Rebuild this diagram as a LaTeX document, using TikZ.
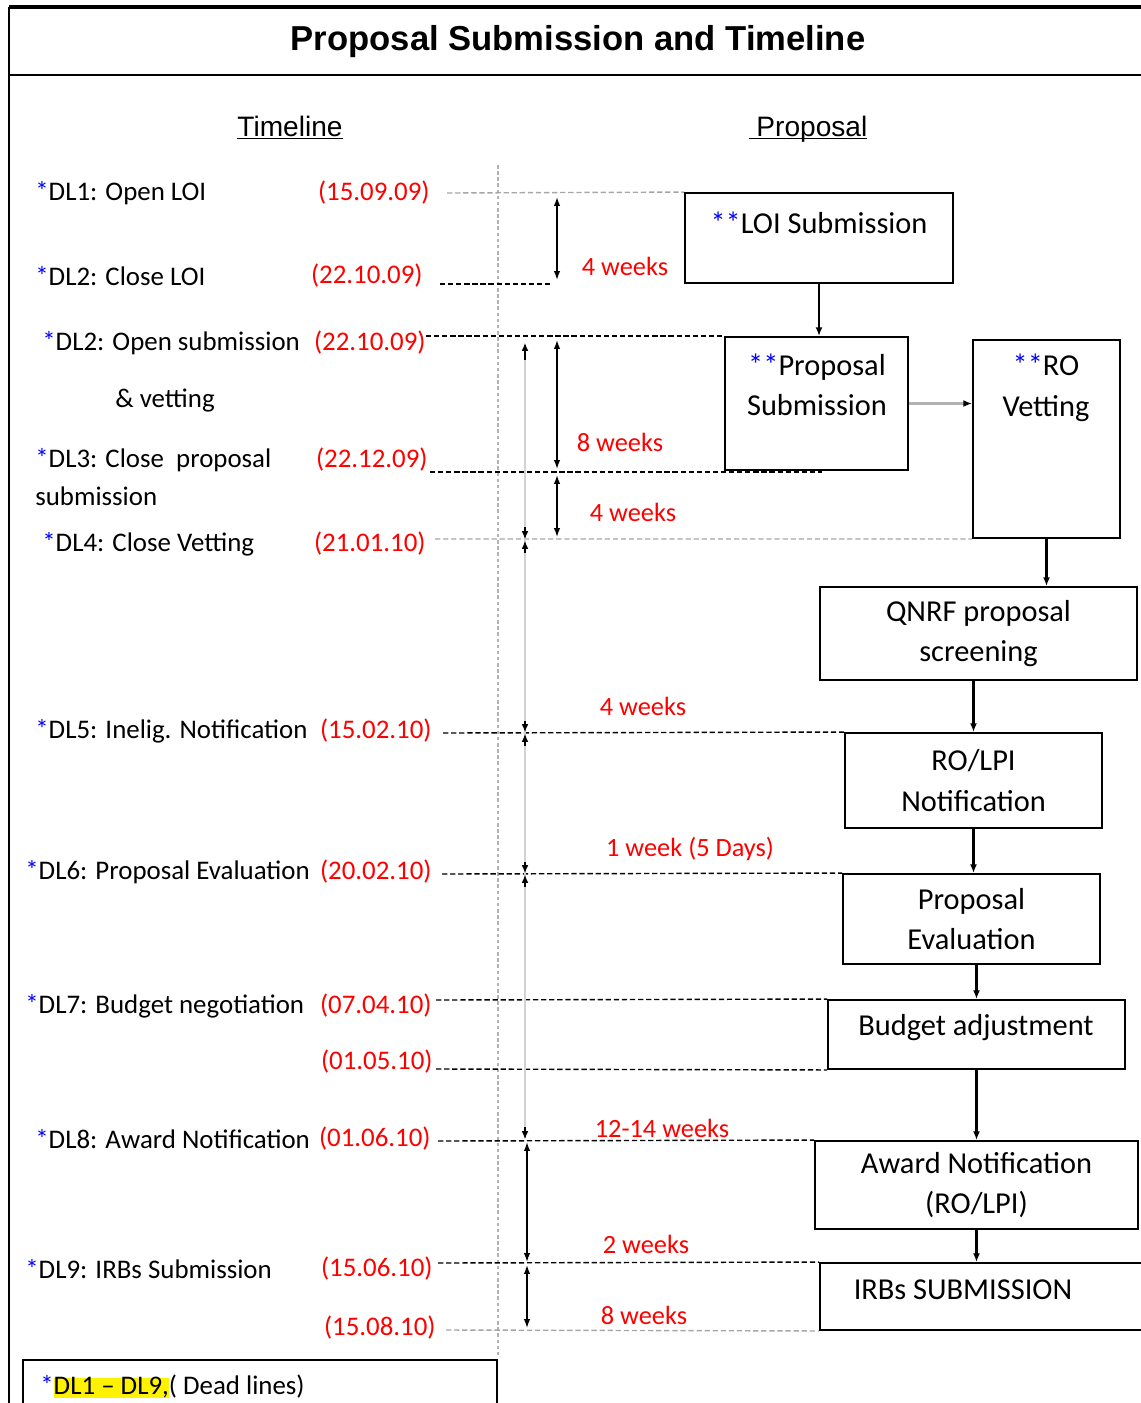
\documentclass[tikz,border=0pt]{standalone}
\usepackage{fontspec}
\setmainfont{Carlito}
\newfontfamily\headfont{Liberation Sans}
\usepackage{xcolor}
\usetikzlibrary{arrows.meta,positioning}
\newcommand{\dlstar}{\textcolor{blue}{*}}
\setlength{\fboxsep}{0pt}

\begin{document}
\begin{tikzpicture}[x=0.02cm, y=-0.02cm,
  lbl/.style={anchor=west, inner sep=0pt, font=\fontsize{15.3}{18}\selectfont},
  date/.style={anchor=east, inner sep=0pt, text=red, font=\fontsize{15.3}{18}\selectfont},
  wk/.style={inner sep=0pt, text=red, font=\fontsize{15}{18}\selectfont},
  head/.style={inner sep=0pt, anchor=base, font=\headfont\fontsize{16}{19}\selectfont},
  stepbox/.style={draw, line width=1.1pt, inner sep=0pt, align=center, font=\fontsize{17.3}{23}\selectfont},
  boxtxt/.style={inner sep=0pt, align=center, font=\fontsize{17.3}{23}\selectfont},
  guide/.style={line width=0.8pt, dash pattern=on 3pt off 1.6pt},
  guidegray/.style={guide, gray!70},
  span/.style={line width=0.8pt, {Latex[length=5pt,width=3.6pt]}-{Latex[length=5pt,width=3.6pt]}},
  tick/.style={line width=0.6pt, -{Latex[length=4.5pt,width=3.8pt]}},
  flow/.style={line width=1.3pt, -{Latex[length=5pt,width=4pt]}},
]
  \useasboundingbox (0,0) rectangle (1140,1403);

  \draw[line width=2.2pt] (9,7) -- (1150,7);
  \draw[line width=1.2pt] (9,7) -- (9,1420);
  \draw[line width=1.2pt] (9,75) -- (1150,75);
  \node[font=\headfont\bfseries\fontsize{19.7}{22}\selectfont, inner sep=0pt, anchor=base] (title) at (578,50) {Proposal Submission and Timeline};
  \node[head] (tl) at (290,136) {\underline{\smash{Timeline}}};
  \node[head] (pr) at (808,136) {\underline{\smash{\ Proposal}}};

  \draw[gray!60, line width=1.2pt, dash pattern=on 2pt off 1.5pt] (498,165) -- (498,1355);

  \node[lbl] (l1) at (35,193) {\dlstar DL1: Open LOI};
  \node[lbl] (l2) at (35,276) {\dlstar DL2: Close LOI};
  \node[lbl] (l3) at (42,343) {\dlstar DL2: Open submission};
  \node[lbl] (l3b) at (115,401) {\& vetting};
  \node[lbl] (l4) at (35,460) {\dlstar DL3: Close\ \ proposal};
  \node[lbl] (l4b) at (35,496) {submission};
  \node[lbl] (l5) at (42,544) {\dlstar DL4: Close Vetting};
  \node[lbl] (l6) at (35,731) {\dlstar DL5: Inelig. Notification};
  \node[lbl] (l7) at (25,872) {\dlstar DL6: Proposal Evaluation};
  \node[lbl] (l8) at (25,1006) {\dlstar DL7: Budget negotiation};
  \node[lbl] (l9) at (35,1139) {\dlstar DL8: Award Notification};
  \node[lbl] (l10) at (25,1269) {\dlstar DL9: IRBs Submission};

  \node[date] (d1) at (430,193) {(15.09.09)};
  \node[date] (d2) at (423,276) {(22.10.09)};
  \node[date] (d3) at (426,343) {(22.10.09)};
  \node[date] (d4) at (428,460) {(22.12.09)};
  \node[date] (d5) at (426,544) {(21.01.10)};
  \node[date] (d6) at (432,731) {(15.02.10)};
  \node[date] (d7) at (432,872) {(20.02.10)};
  \node[date] (d8) at (432,1006) {(07.04.10)};
  \node[date] (d9) at (433,1062) {(01.05.10)};
  \node[date] (d10) at (431,1139) {(01.06.10)};
  \node[date] (d11) at (433,1269) {(15.06.10)};
  \node[date] (d12) at (436,1328) {(15.08.10)};

  \node[stepbox, minimum width=5.36cm, minimum height=1.8cm] (loi) at (819,238) {};
  \node[boxtxt] (loitxt) at (819,223) {\dlstar\dlstar LOI Submission};
  \node[stepbox, minimum width=3.66cm, minimum height=2.66cm] (prop) at (816.5,403.5) {};
  \node[boxtxt] (proptxt) at (817,385) {\dlstar\dlstar Proposal\\Submission};
  \node[stepbox, minimum width=2.94cm, minimum height=3.96cm] (vet) at (1046.5,439) {};
  \node[boxtxt] (vettxt) at (1046,388) {\dlstar\dlstar RO\\Vetting};
  \node[stepbox, minimum width=6.34cm, minimum height=1.86cm] (qnrf) at (978.5,633.5) {QNRF proposal\\screening};
  \node[stepbox, minimum width=5.14cm, minimum height=1.9cm] (rolpi) at (973.5,780.5) {RO/LPI\\Notification};
  \node[stepbox, minimum width=5.14cm, minimum height=1.8cm] (peval) at (971.5,919) {Proposal\\Evaluation};
  \node[stepbox, minimum width=5.94cm, minimum height=1.38cm] (budget) at (976.5,1034.5) {};
  \node[boxtxt] (budgettxt) at (976,1028) {Budget adjustment};
  \node[stepbox, minimum width=6.46cm, minimum height=1.76cm] (award) at (976.5,1185) {Award Notification\\(RO/LPI)};
  \node[stepbox, minimum width=6.6cm, minimum height=1.34cm] (irbs) at (985,1296.5) {};
  \node[boxtxt] (irbstxt) at (963,1290) {IRBs SUBMISSION};

  \draw[flow] (loi.south) -- (loi.south |- prop.north);
  \draw[line width=2pt, gray!60, -{Latex[length=5pt,width=4pt,black]}] (prop.east) -- (vet.west |- prop.east);
  \draw[flow] (vet.south) -- (vet.south |- qnrf.north);
  \draw[flow] (rolpi.north |- qnrf.south) -- (rolpi.north);
  \draw[flow] (rolpi.south) -- (rolpi.south |- peval.north);
  \draw[flow] (budget.north |- peval.south) -- (budget.north);
  \draw[flow] (budget.south) -- (award.north);
  \draw[flow] (award.south) -- (award.south |- irbs.north);

  \draw[guidegray] (447,193) -- (loi.north west);
  \draw[guide] (440,284) -- (550,284);
  \draw[guide] (d3.east |- prop.north) -- (prop.north west);
  \draw[guide] (430,472) -- (822,472);
  \draw[guidegray] (435,539) -- (vet.south west);
  \draw[guide] (443,733) -- (rolpi.north west);
  \draw[guide] (442,874) -- (peval.north west);
  \draw[guide] (436,1000) -- (budget.north west);
  \draw[guide] (436,1069) -- (budget.south west);
  \draw[guide] (438,1141) -- (award.north west);
  \draw[guide] (438,1263) -- (irbs.north west);
  \draw[guidegray] (446,1330) -- (irbs.south west);

  \draw[span] (557,197) -- (557,280);
  \draw[span] (557,340) -- (557,469);
  \draw[span] (557,475) -- (557,537);
  \draw[gray!35, line width=0.6pt] (525,345) -- (525,1138);
  \draw[tick] (525,360) -- (525,343);
  \draw[tick] (525,527) -- (525,539);
  \draw[tick] (525,553) -- (525,541);
  \draw[tick] (525,721) -- (525,732);
  \draw[tick] (525,746) -- (525,734);
  \draw[tick] (525,862) -- (525,873);
  \draw[tick] (525,887) -- (525,875);
  \draw[tick] (525,1127) -- (525,1139);
  \draw[span] (527,1142) -- (527,1262);
  \draw[span] (527,1265) -- (527,1328);

  \node[wk] (w1) at (625,266) {4 weeks};
  \node[wk] (w2) at (620,442) {8 weeks};
  \node[wk] (w3) at (633,512) {4 weeks};
  \node[wk] (w4) at (643,706) {4 weeks};
  \node[wk] (w5) at (690,849) {1 week (5 Days)};
  \node[wk] (w6) at (662,1128) {12-14 weeks};
  \node[wk] (w7) at (646,1244) {2 weeks};
  \node[wk] (w8) at (644,1315) {8 weeks};

  \draw[line width=1.2pt] (23,1420) -- (23,1360) -- (497,1360) -- (497,1420);
  \node[lbl] (legend) at (40,1387) {\dlstar\colorbox{yellow}{DL1 -- DL9,}( Dead lines)};
\end{tikzpicture}
\end{document}
